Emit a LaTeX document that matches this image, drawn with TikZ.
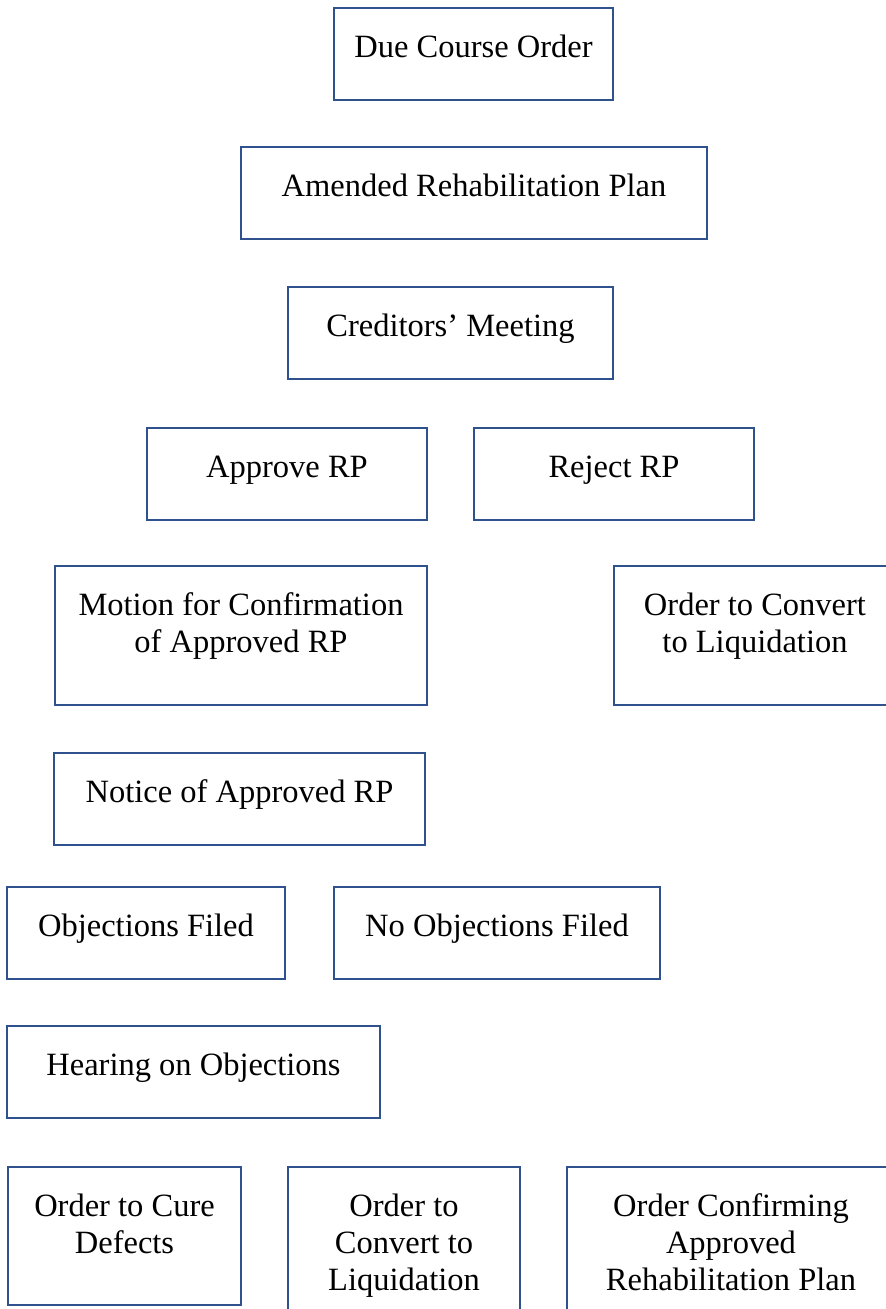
\documentclass[tikz,border=0pt]{standalone}
\usepackage{fontspec}
\setmainfont{Liberation Serif}
\definecolor{boxblue}{RGB}{47,82,143}
% text block of a box: top aligned, first baseline 49pt below the frame
\newcommand{\boxtext}[3]{\parbox[t][#2][t]{#1}{\centering\fontsize{32.5pt}{37pt}\selectfont\rule{0pt}{49pt}#3}}
\tikzset{
  stepbox/.style={draw=boxblue, line width=1.8pt, inner sep=0pt, outer sep=0pt, anchor=north west, fill=white}
}
\begin{document}
\begin{tikzpicture}[x=1pt,y=1pt]
\useasboundingbox (0,0) rectangle (886,-1309);
\clip (0,0) rectangle (886,-1309);
\node[stepbox] (due)      at (334,-8)    {\boxtext{279pt}{92pt}{Due Course Order}};
\node[stepbox] (amended)  at (241,-147)  {\boxtext{466pt}{92pt}{Amended Rehabilitation Plan}};
\node[stepbox] (meeting)  at (288,-287)  {\boxtext{325pt}{92pt}{Creditors’ Meeting}};
\node[stepbox] (approve)  at (147,-428)  {\boxtext{280pt}{92pt}{Approve RP}};
\node[stepbox] (reject)   at (474,-428)  {\boxtext{280pt}{92pt}{Reject RP}};
\node[stepbox] (motion)   at (55,-566)   {\boxtext{372pt}{139pt}{Motion for Confirmation\\of Approved RP}};
\node[stepbox] (convertA) at (614,-566)  {\boxtext{282pt}{139pt}{Order to Convert\\to Liquidation}};
\node[stepbox] (notice)   at (54,-753)   {\boxtext{371pt}{92pt}{Notice of Approved RP}};
\node[stepbox] (objfiled) at (7,-887)    {\boxtext{278pt}{92pt}{Objections Filed}};
\node[stepbox] (noobj)    at (334,-887)  {\boxtext{326pt}{92pt}{No Objections Filed}};
\node[stepbox] (hearing)  at (7,-1026)   {\boxtext{373pt}{92pt}{Hearing on Objections}};
\node[stepbox] (cure)     at (8,-1167)   {\boxtext{233pt}{138pt}{Order to Cure\\Defects}};
\node[stepbox] (convertB) at (288,-1167) {\boxtext{232pt}{160pt}{Order to\\Convert to\\Liquidation}};
\node[stepbox] (confirm)  at (567,-1167) {\boxtext{328pt}{160pt}{Order Confirming\\Approved\\Rehabilitation Plan}};
\end{tikzpicture}
\end{document}
